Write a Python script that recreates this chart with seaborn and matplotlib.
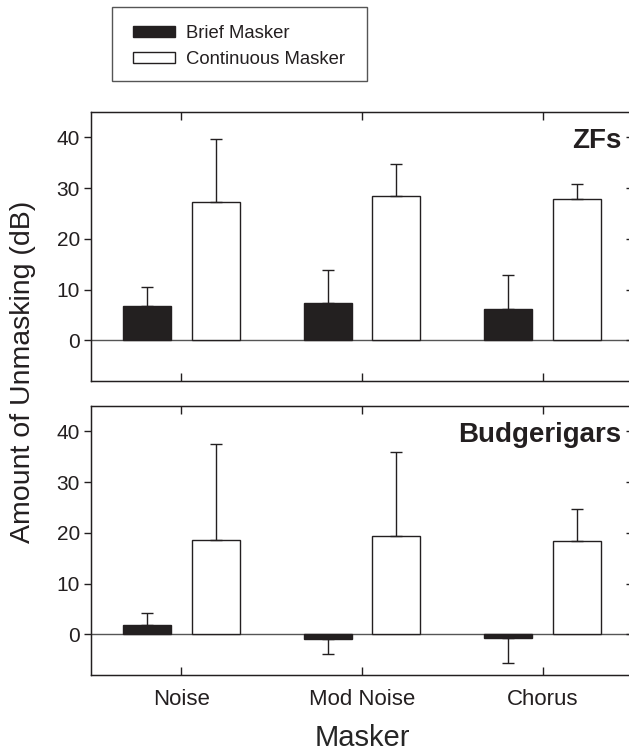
import numpy as np
import pandas as pd
import seaborn as sns
import matplotlib
matplotlib.use("Agg")
import matplotlib.pyplot as plt
from matplotlib.patches import Rectangle

categories = ['Noise', 'Mod Noise', 'Chorus']
maskers = ['Brief Masker', 'Continuous Masker']

# ZFs panel
zf_brief = [6.8, 7.3, 6.2]
zf_brief_err = [3.7, 6.5, 6.6]
zf_cont = [27.2, 28.5, 27.9]
zf_cont_err = [12.4, 6.3, 3.0]

# Budgerigars panel
bg_brief = [1.9, -0.9, -0.7]
bg_brief_err = [2.3, 2.9, 5.0]
bg_cont = [18.6, 19.4, 18.4]
bg_cont_err = [18.9, 16.5, 6.3]

ink = '#231f20'

sns.set_style("ticks")
plt.rcParams['font.family'] = ['Liberation Sans', 'DejaVu Sans']
plt.rcParams['text.color'] = ink
plt.rcParams['axes.edgecolor'] = ink
plt.rcParams['xtick.color'] = ink
plt.rcParams['ytick.color'] = ink


def make_df(brief, cont, brief_err, cont_err):
    return pd.DataFrame({
        'masker_type': np.repeat(maskers, 3),
        'masker': categories * 2,
        'value': brief + cont,
        'err': brief_err + cont_err,
    })


fig = plt.figure(figsize=(6.29, 7.55), dpi=100)
ax_w = 542 / 629
ax_h = 269 / 755
ax_top = fig.add_axes([91 / 629, 1 - 381 / 755, ax_w, ax_h])
ax_bot = fig.add_axes([91 / 629, 1 - 675 / 755, ax_w, ax_h])

panels = [
    (ax_top, make_df(zf_brief, zf_cont, zf_brief_err, zf_cont_err), 'ZFs'),
    (ax_bot, make_df(bg_brief, bg_cont, bg_brief_err, bg_cont_err), 'Budgerigars'),
]

palette = {'Brief Masker': ink, 'Continuous Masker': 'white'}
handles, labels = None, None

for ax, df, name in panels:
    ax.axhline(0, color='#555555', lw=1.0, zorder=0.5)
    sns.barplot(data=df, x='masker', y='value', hue='masker_type',
                hue_order=maskers, order=categories, palette=palette,
                edgecolor=ink, linewidth=1.0, width=0.76, gap=0.3,
                errorbar=None, legend=True, ax=ax, zorder=2)
    # one-sided error bars, pointing away from zero
    for cont, mt in zip(ax.containers, maskers):
        sub = df[df['masker_type'] == mt]
        for bar, val, e in zip(cont, sub['value'], sub['err']):
            x = bar.get_x() + bar.get_width() / 2
            lower = [0] if val >= 0 else [e]
            upper = [e] if val >= 0 else [0]
            ax.errorbar([x], [val], yerr=[lower, upper], fmt='none',
                        ecolor=ink, elinewidth=1.0, capsize=4, capthick=1.0,
                        zorder=3)
    handles, labels = ax.get_legend_handles_labels()
    ax.get_legend().remove()

    ax.set_xlim(-0.5, 2.5)
    ax.set_ylim(-8, 45)
    ax.set_yticks([0, 10, 20, 30, 40])
    ax.set_xlabel('')
    ax.set_ylabel('')
    for s in ax.spines.values():
        s.set_visible(True)
        s.set_linewidth(1.0)
    ax.tick_params(axis='y', direction='out', length=5, width=1, labelsize=15, pad=3)
    ax.tick_params(axis='x', direction='in', length=6, width=1, top=True,
                   labelsize=16, pad=10)
    ax2 = ax.twinx()
    ax2.set_ylim(ax.get_ylim())
    ax2.set_yticks([0, 10, 20, 30, 40])
    ax2.tick_params(axis='y', direction='in', length=5, width=1, labelright=False)
    ax.text(0.978, 0.893, name, transform=ax.transAxes, ha='right', va='center',
            fontsize=20, fontweight='bold', color=ink)

ax_top.tick_params(axis='x', labelbottom=False)
ax_bot.set_xlabel('Masker', fontsize=21, labelpad=10)

fig.text(23 / 629, 1 - 372 / 755, 'Amount of Unmasking (dB)', rotation=90,
         ha='center', va='center', fontsize=20.5)

# legend box drawn separately so its padding matches the original
fig.patches.append(Rectangle((112 / 629, 1 - 81 / 755), 255 / 629, 74 / 755,
                             transform=fig.transFigure, facecolor='none',
                             edgecolor='#555555', lw=1.0))
leg = fig.legend(handles, labels, loc='upper left',
                 bbox_to_anchor=(133 / 629, 1 - 25 / 755), fontsize=13.3,
                 frameon=False, handlelength=2.3, handleheight=0.5,
                 handletextpad=0.55, borderpad=0, labelspacing=0.5,
                 borderaxespad=0)

fig.savefig('out.png', dpi=100)
